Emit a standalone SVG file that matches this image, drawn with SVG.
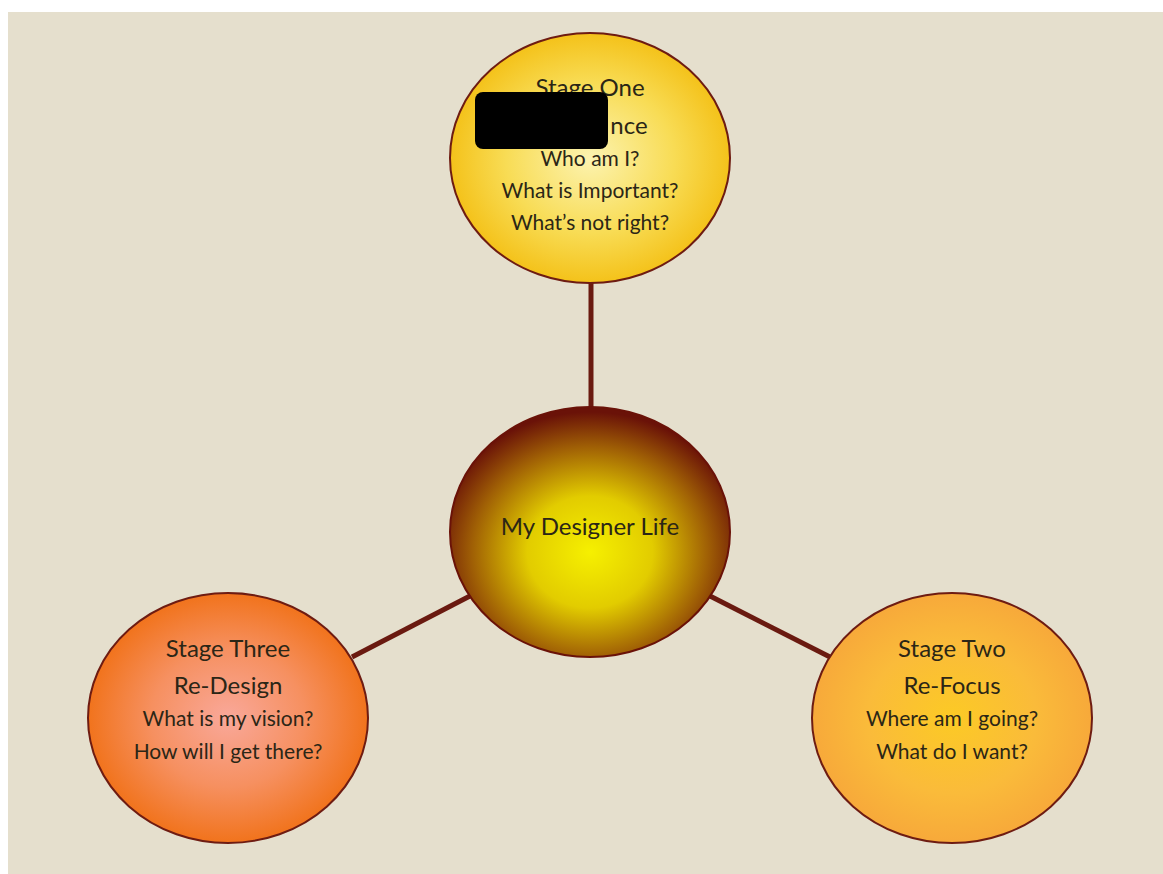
<svg xmlns="http://www.w3.org/2000/svg" width="1163" height="874" viewBox="0 0 1163 874">
<style>
.t{font-family:"Lato","Open Sans","Liberation Sans",sans-serif;fill:#2b2616;text-anchor:middle}
.h{font-size:24px}
.q{font-size:21px}
.node{stroke:#6e1c12;stroke-width:2}
.conn{stroke:#6a1a10;stroke-width:5;fill:none}
</style>
<defs>
<radialGradient id="gTop" cx="0.5" cy="0.5" r="0.5">
<stop offset="0" stop-color="#fcf3b0"/>
<stop offset="0.6" stop-color="#f8dc55"/>
<stop offset="1" stop-color="#f4c21a"/>
</radialGradient>
<radialGradient id="gCenter" cx="0.5" cy="0.58" r="0.56">
<stop offset="0" stop-color="#f6f000"/>
<stop offset="0.4" stop-color="#e2cc00"/>
<stop offset="0.75" stop-color="#a06005"/>
<stop offset="1" stop-color="#6a1208"/>
</radialGradient>
<radialGradient id="gLeft" cx="0.5" cy="0.5" r="0.5">
<stop offset="0" stop-color="#f9a89a"/>
<stop offset="0.55" stop-color="#f69060"/>
<stop offset="1" stop-color="#f1731c"/>
</radialGradient>
<radialGradient id="gRight" cx="0.5" cy="0.5" r="0.5">
<stop offset="0" stop-color="#fcca25"/>
<stop offset="0.6" stop-color="#fabb3a"/>
<stop offset="1" stop-color="#f7a93a"/>
</radialGradient>
</defs>
<rect x="8" y="12" width="1155" height="862" fill="#e5dfcd"/>
<g id="connectors">
<line class="conn" x1="591" y1="282" x2="591" y2="409"/>
<line class="conn" x1="352" y1="657" x2="470" y2="596"/>
<line class="conn" x1="710" y1="596" x2="830" y2="657"/>
</g>
<g id="stage-one">
<ellipse class="node" cx="590" cy="158" rx="140" ry="125" fill="url(#gTop)"/>
<text class="t h" x="590" y="96">Stage One</text>
<text class="t h" x="629" y="134">nce</text>
<text class="t q" x="590" y="166">Who am I?</text>
<text class="t q" x="590" y="198">What is Important?</text>
<text class="t q" x="590" y="230">What’s not right?</text>
<rect x="475" y="92" width="133" height="57" rx="8" fill="#000"/>
</g>
<g id="center">
<ellipse cx="590" cy="532" rx="140" ry="125" fill="url(#gCenter)" stroke="#6a1208" stroke-width="2"/>
<text class="t h" x="590" y="535">My Designer Life</text>
</g>
<g id="stage-three">
<ellipse class="node" cx="228" cy="718" rx="140" ry="125" fill="url(#gLeft)"/>
<text class="t h" x="228" y="657">Stage Three</text>
<text class="t h" x="228" y="694">Re-Design</text>
<text class="t q" x="228" y="726">What is my vision?</text>
<text class="t q" x="228" y="759">How will I get there?</text>
</g>
<g id="stage-two">
<ellipse class="node" cx="952" cy="718" rx="140" ry="125" fill="url(#gRight)"/>
<text class="t h" x="952" y="657">Stage Two</text>
<text class="t h" x="952" y="694">Re-Focus</text>
<text class="t q" x="952" y="726">Where am I going?</text>
<text class="t q" x="952" y="759">What do I want?</text>
</g>
</svg>
